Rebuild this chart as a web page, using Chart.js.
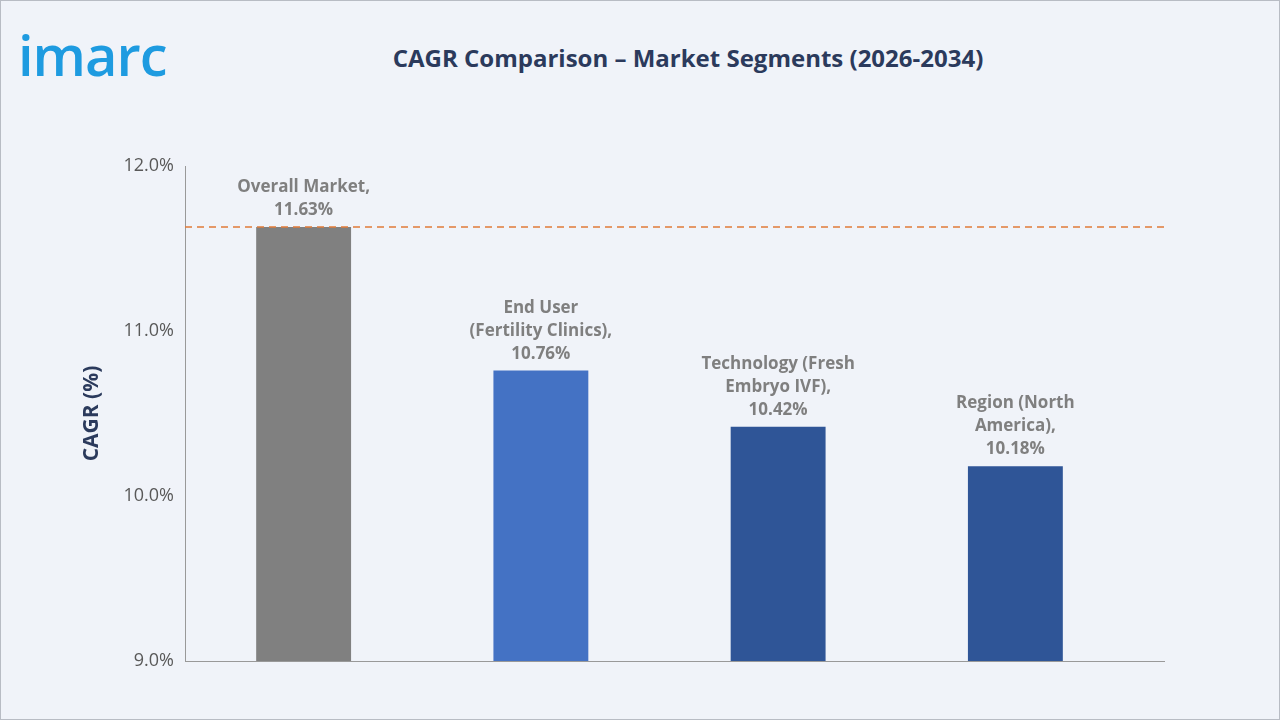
<!DOCTYPE html>
<html>
<head>
<meta charset="utf-8">
<script src="https://cdn.jsdelivr.net/npm/chart.js@4"></script>
<style>
  html, body { margin: 0; padding: 0; }
  body { width: 1280px; height: 720px; background: #f0f3f9; font-family: "Open Sans", sans-serif; position: relative; overflow: hidden; }
  #frame { position: absolute; left: 0; top: 0; width: 1278px; height: 718px; border: 1px solid #b8bcc4; }
  #logo { position: absolute; left: 18px; top: 16px; font: 600 56px "Open Sans", sans-serif; color: #1e9be0; letter-spacing: -1px; }
  #title { position: absolute; left: 0; width: 1376px; top: 41px; text-align: center; font: bold 24px "Open Sans", sans-serif; color: #2b3a5c; }
  #wrap { position: absolute; left: 0; top: 0; width: 1280px; height: 720px; }
</style>
</head>
<body>
<div id="frame"></div>
<div id="logo">imarc</div>
<div id="title">CAGR Comparison – Market Segments (2026-2034)</div>
<div id="wrap"><canvas id="myChart"></canvas></div>
<script>
var categories = ["Overall Market", "End User (Fertility Clinics)", "Technology (Fresh Embryo IVF)", "Region (North America)"];
var labelLines = [["Overall Market,", "11.63%"], ["End User", "(Fertility Clinics),", "10.76%"], ["Technology (Fresh", "Embryo IVF),", "10.42%"], ["Region (North", "America),", "10.18%"]];
var cagrValues = [11.63, 10.76, 10.42, 10.18];
var barColors = ["#808080", "#4472c4", "#2f5597", "#2f5597"];
var overallLine = 11.63;
var yTicks = [9, 10, 11, 12];
var axisEnd = 1165;

var overlay = {
  id: 'overlay',
  afterDatasetsDraw: function(chart) {
    var ctx = chart.ctx, y = chart.scales.y, area = chart.chartArea;
    ctx.save();
    // extend x axis line past the last category
    ctx.strokeStyle = "#999";
    ctx.lineWidth = 1;
    ctx.beginPath();
    ctx.moveTo(area.right, area.bottom + 0.5);
    ctx.lineTo(axisEnd, area.bottom + 0.5);
    ctx.stroke();
    ctx.strokeStyle = "#e07b39";
    ctx.lineWidth = 1.5;
    ctx.setLineDash([7, 5]);
    ctx.beginPath();
    ctx.moveTo(area.left, y.getPixelForValue(overallLine));
    ctx.lineTo(axisEnd, y.getPixelForValue(overallLine));
    ctx.stroke();
    ctx.setLineDash([]);
    ctx.fillStyle = "#7f7f7f";
    ctx.font = "bold 17px 'Open Sans', sans-serif";
    ctx.textAlign = "center";
    var meta = chart.getDatasetMeta(0);
    meta.data.forEach(function(bar, i) {
      var lines = labelLines[i];
      for (var k = 0; k < lines.length; k++) {
        ctx.fillText(lines[k], bar.x, bar.y - 12 - (lines.length - 1 - k) * 23);
      }
    });
    ctx.restore();
  }
};

new Chart(document.getElementById("myChart"), {
  type: 'bar',
  data: {
    labels: categories,
    datasets: [{ data: cagrValues, backgroundColor: barColors, categoryPercentage: 1, barPercentage: 0.4 }]
  },
  options: {
    responsive: true,
    maintainAspectRatio: false,
    animation: false,
    layout: { padding: { top: 166, bottom: 51, right: 146, left: 75 } },
    plugins: { legend: { display: false }, tooltip: { enabled: false } },
    scales: {
      x: {
        grid: { display: false },
        border: { color: "#999" },
        ticks: { display: false }
      },
      y: {
        min: 9, max: 12,
        afterFit: function(s) { s.width = 110; },
        afterBuildTicks: function(s) { s.ticks = yTicks.map(function(v) { return { value: v }; }); },
        grid: { display: false, drawTicks: true },
        border: { color: "#999" },
        ticks: {
          color: "#595959",
          font: { size: 18, family: "'Open Sans', sans-serif" },
          callback: function(v) { return v.toFixed(1) + "%"; }
        },
        title: {
          display: true, text: "CAGR (%)", color: "#2b3a5c",
          font: { size: 21, weight: 'bold', family: "'Open Sans', sans-serif" }
        }
      }
    }
  },
  plugins: [overlay]
});
</script>
</body>
</html>
